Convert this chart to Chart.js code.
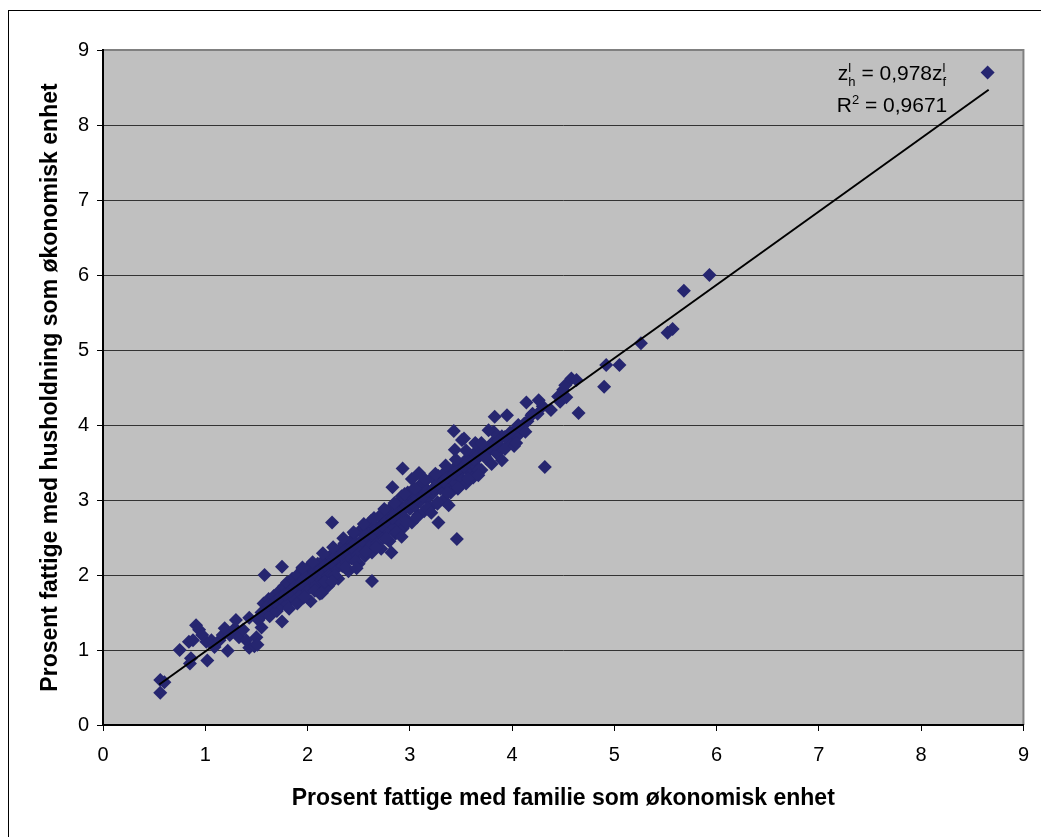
<!DOCTYPE html>
<html><head><meta charset="utf-8">
<script src="https://cdn.jsdelivr.net/npm/chart.js@4.4.1/dist/chart.umd.min.js"></script>
<style>html,body{margin:0;padding:0;background:#fff;}#wrap{position:relative;width:1041px;height:837px;}</style>
</head><body><div id="wrap"><canvas id="c" width="1041" height="837"></canvas></div>
<script>
// ---- data ----
const xTitle = 'Prosent fattige med familie som økonomisk enhet';
const yTitle = 'Prosent fattige med husholdning som økonomisk enhet';
const tickValues = [0,1,2,3,4,5,6,7,8,9];

const lowX = [0.56,0.56,0.60,0.75,0.84,0.85,0.86,0.88,0.91,0.94,0.97,1.01,1.02,1.06,1.09,1.14,1.17,1.19,1.22,1.24,1.29,1.30,1.33,1.37,1.40,1.43,1.43,1.48,1.50,1.51,1.52,1.55,1.57,1.58];
const lowY = [0.43,0.60,0.57,1.00,1.11,0.82,0.89,1.13,1.33,1.27,1.20,1.11,0.86,1.13,1.04,1.13,1.20,1.29,0.99,1.20,1.29,1.40,1.17,1.27,1.13,1.43,1.03,1.05,1.17,1.07,1.40,1.30,1.48,2.00];

const bandX = [1.52,1.55,1.57,1.60,1.62,1.63,1.65,1.67,1.70,1.70,1.72,1.74,1.75,1.77,1.78,1.80,1.80,1.82,1.84,1.85,1.86,1.88,1.90,1.90,1.92,1.94,1.95,1.96,1.98,2.00,2.00,2.02,2.03,2.05,2.06,2.08,2.10,2.10,2.12,2.14,2.15,2.16,2.18,2.20,2.20,2.22,2.24,2.25,2.27,2.28,2.30,2.30,2.32,2.34,2.35,2.36,2.38,2.40,2.40,2.42,2.43,2.45,2.46,2.48,2.50,2.50,2.52,2.53,2.55,2.56,2.58,2.60,2.60,2.62,2.63,2.65,2.66,2.68,2.70,2.70,2.72,2.74,2.75,2.77,2.78,2.80,2.80,2.82,2.84,2.85,2.86,2.88,2.90,2.90,2.92,2.93,2.95,2.96,2.98,3.00,3.00,3.02,3.04,3.05,3.07,3.08,3.10,3.10,3.12,3.14,3.15,3.17,3.18,3.20,3.22,3.23,3.25,3.27,3.28,3.30,3.32,3.33,3.35,3.37,3.38,3.40,3.42,3.43,3.45,3.47,3.48,3.50,3.52,3.55,3.56,3.58,3.60,3.62,3.63,3.65,3.68,3.70,3.72,3.75,3.77,3.80,3.82,3.85,3.88,3.90,3.93,3.96,4.00,4.02,4.05,4.10,4.15,4.20,4.30,4.45];
const bandY = [1.42,1.50,1.62,1.55,1.68,1.45,1.60,1.72,1.52,1.65,1.78,1.60,1.38,1.85,1.70,1.62,1.90,1.55,1.80,1.95,1.70,1.85,1.62,2.00,1.78,1.92,2.08,1.70,1.88,2.00,1.80,2.12,1.65,1.95,2.05,1.85,2.15,1.98,1.75,2.08,1.90,2.20,2.02,2.12,1.85,2.25,2.00,2.15,2.30,2.08,2.20,1.95,2.35,2.12,2.25,2.42,2.18,2.30,2.05,2.45,2.22,2.35,2.55,2.28,2.42,2.15,2.60,2.35,2.48,2.25,2.62,2.40,2.55,2.72,2.30,2.50,2.65,2.42,2.58,2.78,2.35,2.68,2.50,2.85,2.60,2.72,2.45,2.90,2.65,2.78,2.55,2.95,2.72,2.85,3.05,2.62,2.90,2.75,3.10,2.88,2.98,2.70,3.15,2.92,3.05,2.80,3.20,2.98,3.08,2.85,3.25,3.02,3.12,2.90,3.30,3.10,3.18,2.95,3.32,3.15,3.25,3.00,3.38,3.20,3.30,3.10,3.40,3.25,3.35,3.15,3.48,3.30,3.42,3.22,3.55,3.38,3.50,3.30,3.62,3.45,3.58,3.40,3.70,3.55,3.65,3.48,3.78,3.62,3.72,3.85,3.68,3.80,3.90,3.72,3.85,3.95,4.05,4.15,4.25,4.38];

const coreX = [1.62,1.68,1.73,1.78,1.83,1.87,1.93,1.97,2.03,2.07,2.13,2.17,2.23,2.27,2.33,2.37,2.43,2.47,2.53,2.57,2.63,2.67,2.73,2.77,2.83,2.87,2.93,2.97,3.03,3.07,3.13,3.17,3.23,3.27,3.33,3.37,3.43,3.47,3.53,3.57,3.63,3.67,3.73,3.77,3.83,3.87,3.93,3.98,4.07,4.12,4.25];
const coreY = [1.60,1.64,1.70,1.74,1.78,1.84,1.88,1.94,1.98,2.04,2.08,2.13,2.17,2.23,2.27,2.33,2.37,2.43,2.46,2.53,2.56,2.62,2.66,2.72,2.76,2.82,2.86,2.92,2.96,3.02,3.05,3.12,3.15,3.21,3.25,3.31,3.35,3.41,3.45,3.51,3.54,3.60,3.64,3.70,3.74,3.80,3.84,3.90,3.98,4.02,4.15];

const upperX = [1.95,2.05,2.15,2.25,2.35,2.45,2.55,2.65,2.75,2.85,2.95,3.05,3.15,3.25,3.35,3.45,3.55,3.65];
const upperY = [2.10,2.17,2.29,2.37,2.49,2.57,2.68,2.76,2.88,2.96,3.08,3.15,3.27,3.35,3.46,3.54,3.66,3.74];
const lowerX = [1.97,2.07,2.17,2.27,2.37,2.47,2.57,2.67,2.77,2.87,2.97,3.07,3.17,3.27,3.37,3.47,3.57,3.67];
const lowerY = [1.71,1.79,1.91,1.99,2.11,2.19,2.31,2.37,2.49,2.57,2.69,2.77,2.89,2.97,3.09,3.17,3.29,3.37];

const outX = [1.75,2.14,2.24,2.24,2.48,2.63,2.82,2.83,2.92,2.93,3.02,3.09,3.21,3.28,3.38,3.46,3.44,3.51,3.64];
const outY = [2.11,1.76,1.91,2.70,2.09,1.92,2.30,3.17,2.51,3.42,3.28,3.36,2.83,2.70,2.93,2.48,3.67,3.80,3.76];

const highX = [3.43,3.53,3.83,3.95,4.14,4.26,4.19,4.38,4.47,4.50,4.52,4.53,4.58,4.63,4.65,4.09,4.04,4.13,3.82,3.90,3.70,3.74,3.67,3.67,3.77,4.06,4.32,4.90,4.92,5.05,5.26,5.52,5.57,5.68,5.93,8.65];
const highY = [3.92,3.82,4.11,4.13,4.30,4.33,4.13,4.20,4.31,4.47,4.53,4.37,4.62,4.60,4.16,3.97,3.76,3.91,3.91,3.53,3.76,3.57,3.40,3.33,3.93,4.00,3.44,4.51,4.80,4.80,5.09,5.23,5.28,5.79,6.00,8.70];

const trendX = [0.55, 8.66];
const trendY = [0.54, 8.47];
const trendLabel = '0,978';
const r2Label = '0,9671';

// ---- build ----
function pairs(xs, ys){ return xs.map((x,i)=>({x:x, y:ys[i]})); }
const points = [].concat(pairs(lowX,lowY), pairs(bandX,bandY), pairs(coreX,coreY), pairs(upperX,upperY), pairs(lowerX,lowerY), pairs(outX,outY), pairs(highX,highY));
const trend = pairs(trendX, trendY);

const FONT = '"Liberation Sans", Arial, sans-serif';

const bgPlugin = {
  id: 'bg',
  beforeDraw(chart){
    const {ctx, chartArea: a} = chart;
    ctx.save();
    ctx.fillStyle = '#fff'; ctx.fillRect(0,0,chart.width,chart.height);
    ctx.strokeStyle = '#000'; ctx.lineWidth = 1;
    ctx.strokeRect(8.5, 10.5, chart.width + 40, chart.height + 40);
    ctx.fillStyle = '#C0C0C0'; ctx.fillRect(a.left, a.top, a.right - a.left, a.bottom - a.top);
    ctx.strokeStyle = '#808080'; ctx.lineWidth = 2;
    ctx.beginPath(); ctx.moveTo(a.left, a.top); ctx.lineTo(a.right, a.top); ctx.lineTo(a.right, a.bottom); ctx.stroke();
    ctx.restore();
  }
};

const labelPlugin = {
  id: 'trendLabel',
  afterDraw(chart){
    const ctx = chart.ctx;
    ctx.save();
    ctx.fillStyle = '#000';
    ctx.textBaseline = 'alphabetic';
    const big = '21px ' + FONT, small = '13px ' + FONT;
    const cx = 892;
    ctx.font = big; const wz = ctx.measureText('z').width;
    const wmid = ctx.measureText(' = ' + trendLabel + 'z').width;
    ctx.font = small; const wh = ctx.measureText('h').width, wf = ctx.measureText('f').width, wl = ctx.measureText('l').width;
    const w1 = wz + Math.max(wh, wl) + wmid + Math.max(wf, wl);
    let x = cx - w1/2; const b1 = 80;
    ctx.font = big; ctx.fillText('z', x, b1); x += wz;
    ctx.font = small; ctx.fillText('l', x, b1 - 8); ctx.fillText('h', x, b1 + 6); x += Math.max(wh, wl);
    ctx.font = big; ctx.fillText(' = ' + trendLabel + 'z', x, b1); x += wmid;
    ctx.font = small; ctx.fillText('l', x, b1 - 8); ctx.fillText('f', x, b1 + 6);
    ctx.font = big; const wR = ctx.measureText('R').width; const wrest = ctx.measureText(' = ' + r2Label).width;
    ctx.font = small; const w2 = ctx.measureText('2').width;
    const tot = wR + w2 + wrest;
    x = cx - tot/2; const b2 = 112;
    ctx.font = big; ctx.fillText('R', x, b2); x += wR;
    ctx.font = small; ctx.fillText('2', x, b2 - 8); x += w2;
    ctx.font = big; ctx.fillText(' = ' + r2Label, x, b2);
    ctx.restore();
  }
};

new Chart(document.getElementById('c'), {
  type: 'scatter',
  data: {
    datasets: [
      { type: 'line', data: trend, borderColor: '#000', borderWidth: 2, pointRadius: 0, fill: false, tension: 0 },
      { type: 'scatter', data: points, pointStyle: 'rectRot', pointRadius: 7, pointHoverRadius: 7,
        backgroundColor: '#262670', borderColor: '#262670', borderWidth: 0 }
    ]
  },
  options: {
    responsive: false, animation: false, devicePixelRatio: 1,
    layout: { padding: { left: 0, right: 14, top: 50, bottom: 0 } },
    plugins: { legend: { display: false }, tooltip: { enabled: false } },
    scales: {
      x: {
        type: 'linear', min: 0, max: 9,
        afterFit(s){ s.height = 112; },
        afterBuildTicks(s){ s.ticks = tickValues.map(v => ({value: v})); },
        ticks: { color: '#000', font: { family: FONT, size: 20 }, padding: 12, maxRotation: 0 },
        grid: { drawOnChartArea: false, drawTicks: true, tickLength: 6, tickColor: '#000', color: '#000' },
        border: { display: true, color: '#000', width: 2 },
        title: { display: true, text: xTitle, color: '#000', font: { family: FONT, size: 23, weight: 'bold' }, padding: { top: 0, bottom: 25 } }
      },
      y: {
        type: 'linear', min: 0, max: 9,
        afterFit(s){ s.width = 103; },
        afterBuildTicks(s){ s.ticks = tickValues.map(v => ({value: v})); },
        ticks: { color: '#000', font: { family: FONT, size: 20 }, padding: 8 },
        grid: { drawTicks: true, tickLength: 6, tickColor: '#000', lineWidth: 1,
          color: (c) => (c.tick && c.tick.value === 9) ? 'rgba(0,0,0,0)' : '#333' },
        border: { display: true, color: '#000', width: 2 },
        title: { display: true, text: yTitle, color: '#000', font: { family: FONT, size: 23, weight: 'bold' }, padding: { top: 37, bottom: 0 } }
      }
    }
  },
  plugins: [bgPlugin, labelPlugin]
});
</script></body></html>
